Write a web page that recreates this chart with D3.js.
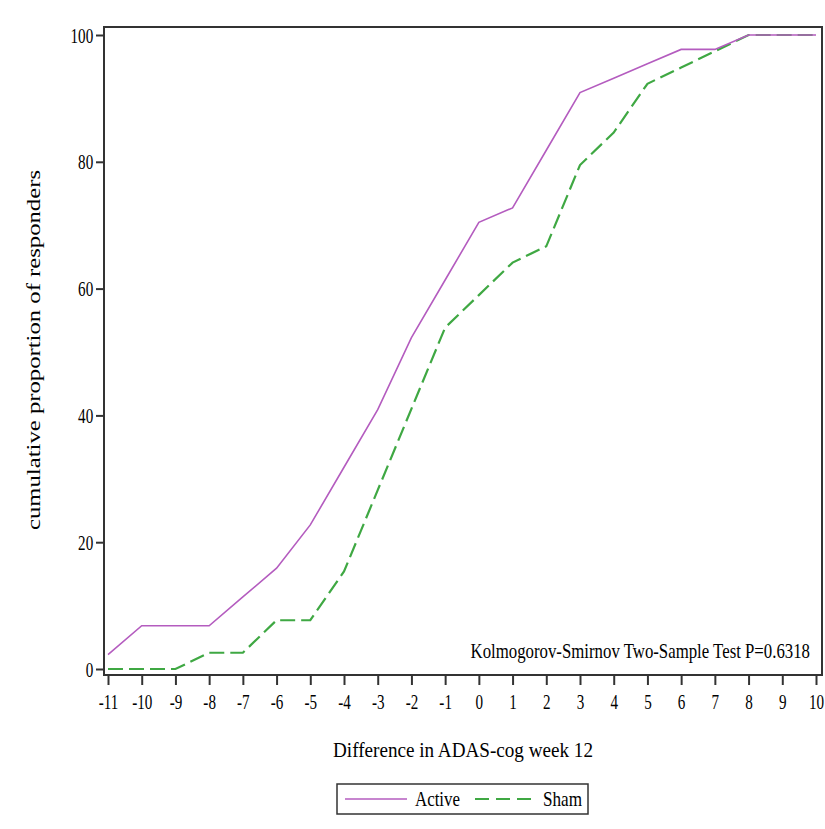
<!DOCTYPE html>
<html>
<head>
<meta charset="utf-8">
<script src="https://cdn.jsdelivr.net/npm/d3@7"></script>
<style>
  body { margin: 0; background: #fff; }
  text { font-family: "Liberation Serif", "Times New Roman", serif; fill: #000; }
</style>
</head>
<body>
<script>
(function() {

	// data
	var diffs = [-11, -10, -9, -8, -7, -6, -5, -4, -3, -2, -1, 0, 1, 2, 3, 4, 5, 6, 7, 8, 9, 10];
	var active = [2.27, 6.82, 6.82, 6.82, 11.36, 15.91, 22.73, 31.82, 40.91, 52.27, 61.36, 70.45,
		72.73, 81.82, 90.91, 93.18, 95.45, 97.73, 97.73, 100, 100, 100];
	var sham = [0, 0, 0, 2.56, 2.56, 7.69, 7.69, 15.38, 28.21, 41.03, 53.85, 58.97,
		64.10, 66.67, 79.49, 84.62, 92.31, 94.87, 97.44, 100, 100, 100];
	var yTicks = [0, 20, 40, 60, 80, 100];
	var seriesNames = ["Active", "Sham"];
	var seriesColors = ["#b45cbf", "#3fa843"];

	var W = 825, H = 829;
	var frame = { left: 104, right: 822, top: 27, bottom: 675 };

	var svg = d3.select("body").append("svg")
		.attr("width", W)
		.attr("height", H);

	// scales
	var x = d3.scaleLinear().domain([-11, 10]).range([108, 816]);
	var y = d3.scaleLinear().domain([0, 100]).range([669, 35]);

	// frame
	svg.append("rect")
		.attr("x", frame.left)
		.attr("y", frame.top)
		.attr("width", frame.right - frame.left)
		.attr("height", frame.bottom - frame.top)
		.attr("fill", "none")
		.attr("stroke", "#333")
		.attr("stroke-width", 2);

	// y axis
	var yAxisG = svg.append("g")
		.attr("transform", "translate(" + frame.left + ",0)")
		.call(d3.axisLeft(y).tickValues(yTicks).tickSize(8).tickPadding(7));
	yAxisG.select(".domain").remove();
	yAxisG.selectAll(".tick line").attr("stroke", "#333").attr("stroke-width", 2);
	yAxisG.selectAll(".tick text")
		.style("font-family", "Liberation Serif")
		.attr("font-size", 21)
		.attr("dy", "0.34em")
		.attr("transform", "scale(0.72,1)");

	// x axis
	var xAxisG = svg.append("g")
		.attr("transform", "translate(0," + frame.bottom + ")")
		.call(d3.axisBottom(x).tickValues(diffs).tickFormat(d3.format("d")).tickSize(10).tickPadding(9));
	xAxisG.select(".domain").remove();
	xAxisG.selectAll(".tick line").attr("stroke", "#333").attr("stroke-width", 2);
	xAxisG.selectAll(".tick text")
		.style("font-family", "Liberation Serif")
		.attr("font-size", 21)
		.attr("transform", "scale(0.72,1)")
		.text(function(d) { return d < 0 ? "-" + Math.abs(d) : d; });

	// axis titles
	svg.append("text")
		.attr("transform", "translate(40,350) rotate(-90)")
		.attr("text-anchor", "middle")
		.attr("font-size", 19)
		.attr("textLength", 360)
		.attr("lengthAdjust", "spacingAndGlyphs")
		.text("cumulative proportion of responders");

	svg.append("text")
		.attr("x", 463)
		.attr("y", 757)
		.attr("text-anchor", "middle")
		.attr("font-size", 22)
		.attr("textLength", 260)
		.attr("lengthAdjust", "spacingAndGlyphs")
		.text("Difference in ADAS-cog week 12");

	// test annotation, condensed with a scale so its box matches what is drawn
	svg.append("text")
		.attr("transform", "translate(810,658) scale(0.84,1)")
		.attr("text-anchor", "end")
		.attr("font-size", 20)
		.text("Kolmogorov-Smirnov Two-Sample Test P=0.6318");

	// lines
	var line = d3.line()
		.x(function(d) { return x(d.x); })
		.y(function(d) { return y(d.y); });

	var series = [active, sham].map(function(vals, i) {
		return {
			name: seriesNames[i],
			color: seriesColors[i],
			points: vals.map(function(v, j) { return { x: diffs[j], y: v }; })
		};
	});

	svg.selectAll(".series")
		.data(series.slice().reverse())
		.enter().append("path")
		.attr("class", "series")
		.attr("d", function(d) { return line(d.points); })
		.attr("fill", "none")
		.attr("stroke", function(d) { return d.color; })
		.attr("stroke-width", function(d) { return d.name === "Sham" ? 2.2 : 1.6; })
		.attr("stroke-dasharray", function(d) { return d.name === "Sham" ? "15,6" : null; });

	// legend
	var legend = svg.append("g");
	legend.append("rect")
		.attr("x", 337)
		.attr("y", 784)
		.attr("width", 251)
		.attr("height", 30)
		.attr("fill", "none")
		.attr("stroke", "#333")
		.attr("stroke-width", 1.5);

	var legendX = [{ line: 345, text: 415, len: 45 }, { line: 475, text: 543, len: 39 }];
	var items = legend.selectAll(".item")
		.data(series)
		.enter().append("g")
		.attr("class", "item");
	items.append("line")
		.attr("x1", function(d, i) { return legendX[i].line; })
		.attr("x2", function(d, i) { return legendX[i].line + 62; })
		.attr("y1", 799)
		.attr("y2", 799)
		.attr("stroke", function(d) { return d.color; })
		.attr("stroke-width", function(d) { return d.name === "Sham" ? 2.2 : 1.6; })
		.attr("stroke-dasharray", function(d) { return d.name === "Sham" ? "14,7" : null; });
	items.append("text")
		.attr("x", function(d, i) { return legendX[i].text; })
		.attr("y", 806)
		.attr("font-size", 21)
		.attr("textLength", function(d, i) { return legendX[i].len; })
		.attr("lengthAdjust", "spacingAndGlyphs")
		.text(function(d) { return d.name; });

})();
</script>
</body>
</html>
